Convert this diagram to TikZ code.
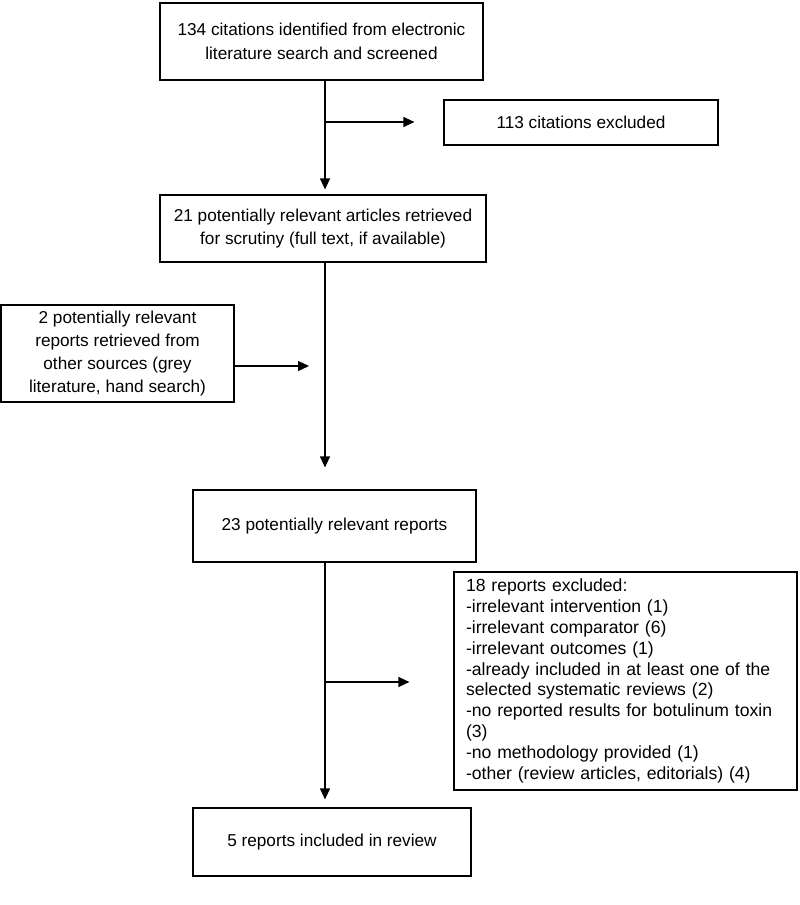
\documentclass[tikz,border=0pt]{standalone}
\usepackage{fontspec}
\setmainfont{Liberation Sans}
\usetikzlibrary{arrows.meta}
\usetikzlibrary{calc}

\begin{document}
\begin{tikzpicture}[x=1pt, y=-1pt, >={Triangle[length=11pt, width=10pt]},
    box/.style={draw, line width=1.2pt, align=center, inner sep=0pt, font=\fontsize{17.2}{23.5}\selectfont},
    flow/.style={->, line width=1.2pt}]
        \useasboundingbox (0,0) rectangle (800,905);
        % boxes
        \node[box, minimum width=323pt, minimum height=77pt] (cited) at (321.5,41.5) {134 citations identified from electronic\\literature search and screened};
        \node[box, minimum width=274pt, minimum height=45pt] (citex) at (581,122.5) {113 citations excluded};
        \node[box, minimum width=326pt, minimum height=67pt] (scrutiny) at (323,228.5) {21 potentially relevant articles retrieved\\for scrutiny (full text, if available)};
        \node[box, minimum width=233pt, minimum height=97pt, font=\fontsize{17.2}{22.7}\selectfont] (other) at (117.5,353.5) {2 potentially relevant\\reports retrieved from\\other sources (grey\\literature, hand search)};
        \node[box, minimum width=283pt, minimum height=72pt] (pool) at (334.5,526) {23 potentially relevant reports};
        \node[box, align=left, text width=319pt, inner xsep=12pt, minimum height=218pt, font=\fontsize{17.6}{20.8}\selectfont] (repex) at (625.5,681) {18 reports excluded:\\-irrelevant intervention (1)\\-irrelevant comparator (6)\\-irrelevant outcomes (1)\\-already included in at least one of the\\selected systematic reviews (2)\\-no reported results for botulinum toxin\\(3)\\-no methodology provided (1)\\-other (review articles, editorials) (4)};
        \node[box, minimum width=278pt, minimum height=68pt] (incl) at (332,842) {5 reports included in review};
        % spine and side branches
        \coordinate (spine) at (325,0);
        \coordinate (cut1) at (325,122);
        \coordinate (grey) at (309,366);
        \coordinate (cut2) at (325,682);
        \draw[flow] (cited.south -| spine) -- ([yshift=5pt]scrutiny.north -| spine);
        \draw[flow] (cut1) -- ([xshift=-29pt]citex.west |- cut1);
        \draw[flow] (scrutiny.south -| spine) -- ([yshift=22pt]pool.north -| spine);
        \draw[flow] (other.east |- grey) -- (grey);
        \draw[flow] (pool.south -| spine) -- ([yshift=8pt]incl.north -| spine);
        \draw[flow] (cut2) -- ([xshift=-44pt]repex.west |- cut2);
\end{tikzpicture}
\end{document}
